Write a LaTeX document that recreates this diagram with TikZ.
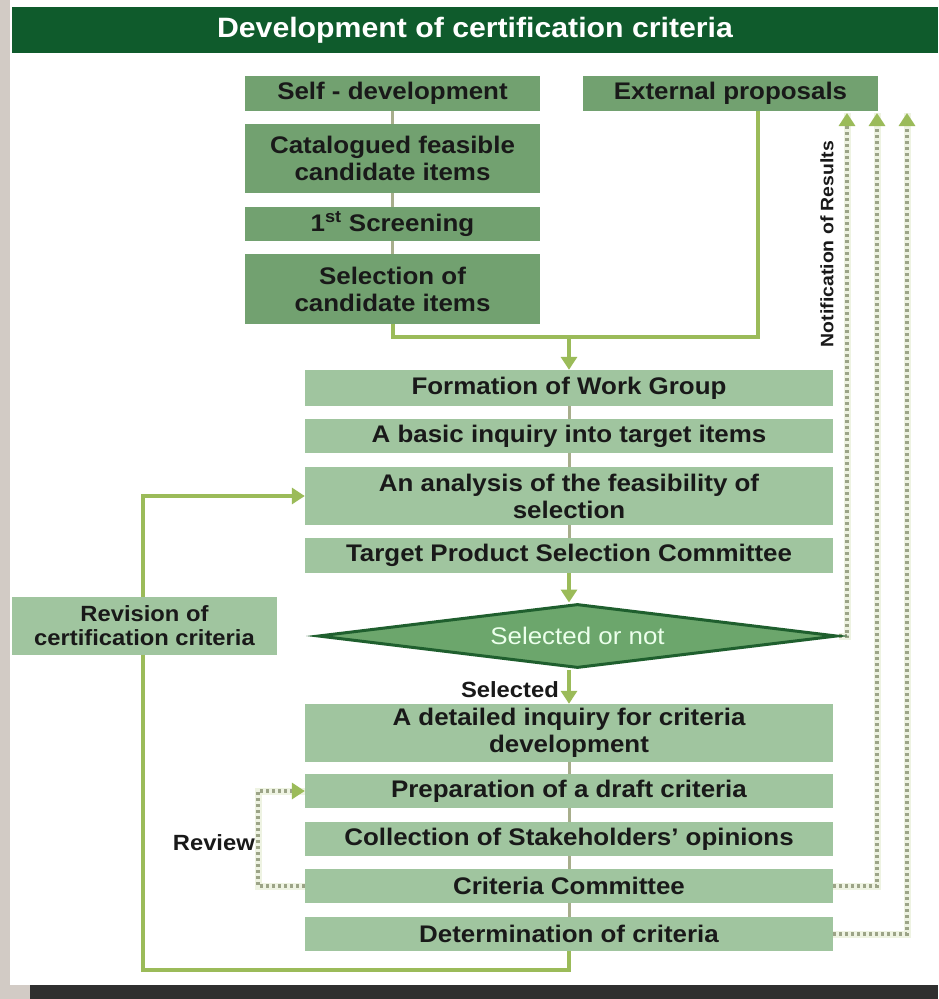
\documentclass[tikz,border=0pt]{standalone}
\usepackage{fontspec}
\setmainfont{Liberation Sans}[FakeStretch=1.08]
\usetikzlibrary{shapes.geometric,arrows.meta}
\pgfdeclarelayer{back}
\pgfdeclarelayer{bg}
\pgfsetlayers{back,bg,main}
\definecolor{titlegreen}{HTML}{0F5B2C}
\definecolor{upbox}{HTML}{72A170}
\definecolor{lowbox}{HTML}{A0C59F}
\definecolor{diafill}{HTML}{6CA66C}
\definecolor{diaborder}{HTML}{1F5F2E}
\definecolor{conn}{HTML}{9BBB59}
\definecolor{thinc}{HTML}{A8AE8C}
\definecolor{dotc}{HTML}{9CA487}
\definecolor{halo}{HTML}{EEF3E2}
\definecolor{beige}{HTML}{D2CBC5}
\definecolor{band}{HTML}{2F2F2F}
\newcommand\bxf{\fontsize{24}{27}\selectfont\bfseries}
\newcommand\lbf{\fontsize{22}{25}\selectfont\bfseries}
\tikzset{
  upperbox/.style={fill=upbox, minimum width=295pt, inner sep=0pt, align=center, font=\bxf, text=black!90},
  lowerbox/.style={fill=lowbox, minimum width=528pt, inner sep=0pt, align=center, font=\bxf, text=black!90},
  thinline/.style={draw=thinc, line width=3pt},
  connline/.style={draw=conn, line width=4pt},
  tip/.style={-{Triangle[width=16pt,length=13pt,color=conn]}},
  dotline/.style={draw=dotc, line width=3.5pt, dash pattern=on 3pt off 3pt,
    preaction={draw=halo, line width=7pt, solid, -}},
  lbl/.style={font=\lbf, text=black!90, inner sep=0pt}
}
\begin{document}
\begin{tikzpicture}[x=1pt,y=-1pt]
\useasboundingbox (0,0) rectangle (938,999);
% background
\begin{pgfonlayer}{back}
\fill[white] (0,0) rectangle (938,999);
\fill[beige] (0,0) rectangle (10,999);
\fill[beige] (0,985) rectangle (30,999);
\fill[band] (30,985) rectangle (938,999);
\end{pgfonlayer}
% title
\node[fill=titlegreen, minimum width=926pt, minimum height=46pt, inner sep=0pt,
      text=white, font=\fontsize{28}{30}\selectfont\bfseries] (title) at (475,30) {Development of certification criteria};

% upper column
\node[upperbox, minimum height=35pt] (self) at (392.5,93.5) {Self - development};
\node[upperbox, minimum height=35pt] (ext) at (730.5,93.5) {External proposals};
\node[upperbox, minimum height=69pt] (cat) at (392.5,158.5) {Catalogued feasible\\candidate items};
\node[upperbox, minimum height=34pt] (scr) at (392.5,224) {1\textsuperscript{st} Screening};
\node[upperbox, minimum height=70pt] (sel) at (392.5,289) {Selection of\\candidate items};

% lower column
\node[lowerbox, minimum height=36pt] (form) at (569,388) {Formation of Work Group};
\node[lowerbox, minimum height=34pt] (basic) at (569,436) {A basic inquiry into target items};
\node[lowerbox, minimum height=58pt] (anal) at (569,496) {An analysis of the feasibility of\\selection};
\node[lowerbox, minimum height=35pt] (tpsc) at (569,555.5) {Target Product Selection Committee};
\node[shape=diamond, fill=diafill, draw=diaborder, line width=3pt, minimum width=519pt, minimum height=64pt,
      inner sep=0pt, aspect=8, text=white!92!green, font=\fontsize{24}{27}\selectfont] (dia) at (577.5,636) {Selected or not};
\node[lowerbox, minimum height=58pt] (det) at (569,733) {A detailed inquiry for criteria\\development};
\node[lowerbox, minimum height=34pt] (prep) at (569,791) {Preparation of a draft criteria};
\node[lowerbox, minimum height=34pt] (coll) at (569,839) {Collection of Stakeholders' opinions};
\node[lowerbox, minimum height=34pt] (crit) at (569,886) {Criteria Committee};
\node[lowerbox, minimum height=34pt] (detm) at (569,934) {Determination of criteria};

% revision box
\node[fill=lowbox, minimum width=265pt, minimum height=58pt, inner sep=0pt, align=center,
      font=\fontsize{22}{24}\selectfont\bfseries, text=black!90] (rev) at (144.5,626) {Revision of\\certification criteria};

% labels
\node[lbl, anchor=east] (sellbl) at (559,690) {Selected};
\node[lbl, anchor=east] (revlbl) at (255,843) {Review};
\node[inner sep=0pt, rotate=90, font=\fontsize{18}{20}\selectfont\bfseries, text=black!90] (notif) at (827,244) {Notification of Results};

% coordinates
\coordinate (j1) at (569,337);
\coordinate (extdrop) at (758,337);
\coordinate (loopc) at (143,970);
\coordinate (rv) at (258,886);
\coordinate (n1) at (847,113);
\coordinate (n2) at (877,113);
\coordinate (n3) at (907,113);

\begin{pgfonlayer}{bg}
% thin links
\draw[thinline] (self) -- (cat);
\draw[thinline] (cat) -- (scr);
\draw[thinline] (scr) -- (sel);
\draw[thinline] (form) -- (basic);
\draw[thinline] (basic) -- (anal);
\draw[thinline] (anal) -- (tpsc);
\draw[thinline] (det) -- (prep);
\draw[thinline] (prep) -- (coll);
\draw[thinline] (coll) -- (crit);
\draw[thinline] (crit) -- (detm);
% main connectors
\draw[connline] (sel.south) |- (extdrop) -- (extdrop |- ext.south);
\draw[connline, tip] (j1) -- (form.north);
\draw[connline, tip] (tpsc.south) -- (tpsc.south |- dia.north);
\draw[connline, tip] (dia.south -| det.north) -- (det.north);
\draw[connline, tip] (detm.south) |- (loopc) |- (anal.west);
% dotted
\draw[dotline, tip] (dia.east) -| (n1);
\draw[dotline, tip] (crit.east) -| (n2);
\draw[dotline, tip] (detm.east) -| (n3);
\draw[dotline, tip] (crit.west) -- (rv) |- (prep.west);
\end{pgfonlayer}
\end{tikzpicture}
\end{document}
